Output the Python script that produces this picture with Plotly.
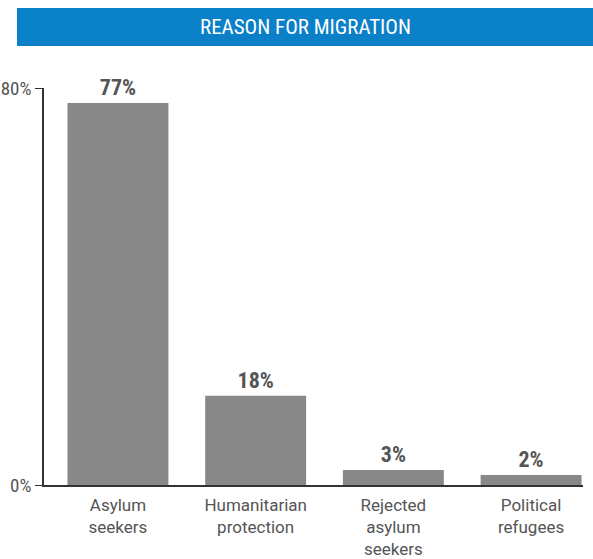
import plotly.graph_objects as go

categories = ["Asylum<br>seekers", "Humanitarian<br>protection", "Rejected<br>asylum<br>seekers", "Political<br>refugees"]
values = [77, 18, 3, 2]
labels = ["77%", "18%", "3%", "2%"]
tick_vals = [0, 80]
tick_text = ["0%", "80%"]
title = "REASON FOR MIGRATION"

FONT = "Liberation Sans Narrow, Roboto Condensed, DejaVu Sans Condensed, Arial Narrow, sans-serif"
TICKFONT = "Roboto, Liberation Sans, sans-serif"

fig = go.Figure(go.Bar(
    x=categories, y=values, text=labels, textposition="outside",
    textfont=dict(family=FONT, size=22, color="#555555", weight="bold"),
    marker=dict(color="#888888", line=dict(width=0)),
    width=0.733, cliponaxis=False, hoverinfo="skip",
))

L, R, T, B = 44, 10, 88, 74
W, H = 593, 559
pw, ph = W - L - R, H - T - B

def px(x):
    return (x - L) / pw

def py(y):
    return (H - B - y) / ph

fig.add_shape(type="rect", xref="paper", yref="paper",
              x0=px(17), x1=px(593), y0=py(46), y1=py(8),
              fillcolor="#0a80c8", line=dict(width=0), layer="below")
fig.add_annotation(text=title, xref="paper", yref="paper", x=px(305), y=py(27),
                   xanchor="center", yanchor="middle", showarrow=False,
                   font=dict(family=FONT, size=21, color="white"))

fig.update_layout(
    width=W, height=H, margin=dict(l=L, r=R, t=T, b=B),
    paper_bgcolor="white", plot_bgcolor="white", showlegend=False,
    font=dict(family=FONT, color="#555555"),
    xaxis=dict(range=[-0.537, 3.377], showline=True, linecolor="#333333", linewidth=1.5,
               ticks="", showgrid=False, tickfont=dict(family=TICKFONT, size=17, color="#555555"),
               ticklabelstandoff=4, fixedrange=True, automargin=False),
    yaxis=dict(range=[0, 80], tickvals=tick_vals, ticktext=tick_text, showline=True,
               linecolor="#333333", linewidth=1.5, ticks="outside", ticklen=7,
               tickcolor="#333333", showgrid=False, zeroline=False,
               tickfont=dict(family=FONT, size=19, color="#555555"), fixedrange=True,
               automargin=False),
)

fig.write_html("out.html", config={"displayModeBar": False},
               post_script="document.body.style.margin='0px';document.body.style.overflow='hidden';")
